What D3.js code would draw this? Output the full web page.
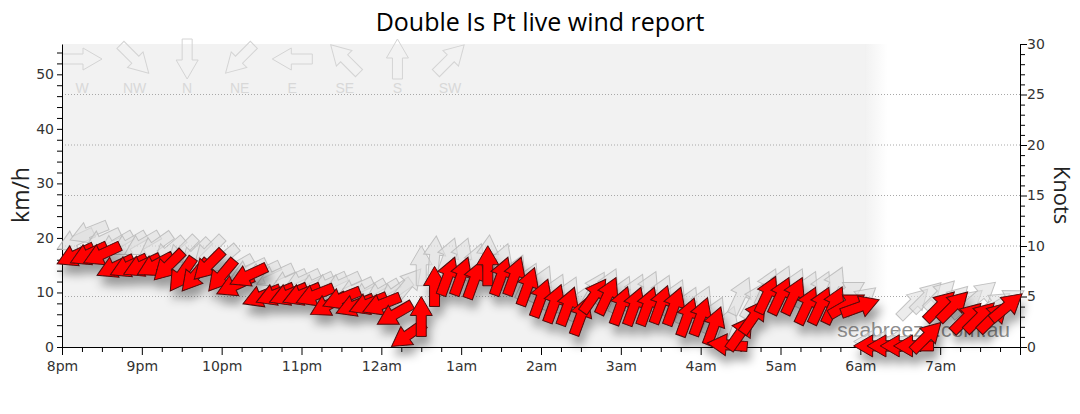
<!DOCTYPE html>
<html><head><meta charset="utf-8">
<script src="https://cdn.jsdelivr.net/npm/d3@7"></script>
<style>
html,body{margin:0;padding:0;background:#fff;}
svg{display:block;}
</style></head>
<body>
<svg id="chart" width="1080" height="414"></svg>
<script>
// ---------------- data ----------------
const title = "Double Is Pt live wind report";
const times = ["20:10","20:20","20:30","20:40","20:50","21:00","21:10","21:20","21:30","21:40","21:50","22:00","22:10","22:20","22:30","22:40","22:50","23:00","23:10","23:20","23:30","23:40","23:50","00:00","00:10","00:20","00:30","00:40","00:50","01:00","01:10","01:20","01:30","01:40","01:50","02:00","02:10","02:20","02:30","02:40","02:50","03:00","03:10","03:20","03:30","03:40","03:50","04:00","04:10","04:20","04:30","04:40","04:50","05:00","05:10","05:20","05:30","05:40","05:50","06:00","06:10","06:20","06:30","06:40","06:50","07:00","07:10","07:20","07:30","07:40","07:50"];
// average wind (km/h) and direction it blows FROM (degrees)
const windKmh = [16.8,17.0,17.0,14.7,14.8,14.9,15.0,14.9,13.3,13.1,
                 15.0,13.1,11.3,13.1,9.3,9.6,9.6,9.6,9.5,7.7,
                 8.9,7.6,7.9,7.8,6.0,2.2,5.6,11.1,13.0,13.0,
                 12.4,14.9,13.0,13.0,11.1,9.0,8.0,7.5,5.7,9.4,
                 9.4,7.6,7.5,7.5,7.8,7.5,5.5,5.6,3.9,0.4,
                 2.6,5.6,9.6,9.4,9.4,7.6,7.6,7.7,7.7,7.4,
                 0.2,0.2,0.2,0.2,1.9,7.5,7.5,5.4,5.5,5.5,7.4];
const windFrom = [65,65,65,65,65,65,62,45,35,40,
                  45,40,65,65,68,68,68,68,68,62,
                  68,68,68,68,60,55,180,180,200,200,
                  200,180,200,200,200,200,200,200,200,215,
                  205,200,200,200,200,200,200,200,200,95,
                  215,215,205,205,205,205,205,205,240,250,
                  90,90,90,90,225,225,225,225,225,225,230];
// gusts (km/h) and direction FROM (degrees)
const gustKmh = [19.5,21.0,19.5,18.8,18.8,18.8,18.5,17.5,17.5,17.0,
                 17.5,16.0,14.5,14.0,13.5,13.0,12.0,12.0,11.5,11.5,
                 11.5,10.5,10.0,10.0,10.0,11.5,14.9,16.7,16.5,16.5,
                 15.5,16.9,15.5,13.5,12.0,11.5,10.0,9.5,8.0,10.5,
                 11.0,9.6,10.0,10.5,9.8,9.0,7.6,7.8,5.8,4.0,
                 9.4,8.5,11.0,11.5,11.0,10.5,10.5,11.3,10.0,8.5,
                 1.0,1.0,1.0,8.0,9.2,9.5,8.5,8.0,9.5,7.7,8.5];
const gustFrom = [65,68,65,60,60,60,55,50,45,45,
                  45,50,60,65,65,65,65,65,65,65,
                  65,65,60,60,55,220,180,185,200,200,
                  200,185,200,205,205,205,205,205,205,210,
                  205,205,205,205,205,205,205,205,205,200,
                  205,210,205,205,205,205,205,205,240,230,
                  90,90,90,225,225,225,225,230,230,235,240];
const hourLabels = ["8pm","9pm","10pm","11pm","12am","1am","2am","3am","4am","5am","6am","7am"];
const compassNames = ["W","NW","N","NE","E","SE","S","SW"];
const compassFrom = [270,315,0,45,90,135,180,225];
const kmhTicks = [0,10,20,30,40,50];
const knotTicks = [0,5,10,15,20,25,30];
const nightEnd = "06:10";
const watermark = "seabreeze.com.au";

// ---------------- layout ----------------
const X0 = 62, X1 = 1020, YT = 44, YB = 347;
const KMH_PER_KNOT = 1.852;

const parseT = s => { const [h, m] = s.split(":").map(Number); return new Date(2000, 0, h < 12 ? 2 : 1, h, m); };
const tStart = parseT("20:00"), tEnd = parseT("08:00");

const x = d3.scaleTime().domain([tStart, tEnd]).range([X0, X1]);
const y = d3.scaleLinear().domain([0, 30 * KMH_PER_KNOT]).range([YB, YT]);
const yKn = d3.scaleLinear().domain([0, 30]).range([YB, YT]);

const svg = d3.select("#chart");
const defs = svg.append("defs");

// night shading gradient
const xNight = x(parseT(nightEnd));
const grad = defs.append("linearGradient").attr("id", "nightFade")
  .attr("gradientUnits", "userSpaceOnUse")
  .attr("x1", xNight - 8).attr("x2", xNight + 14).attr("y1", 0).attr("y2", 0);
grad.append("stop").attr("offset", 0).attr("stop-color", "#f2f2f2");
grad.append("stop").attr("offset", 1).attr("stop-color", "#ffffff");

const shadow = defs.append("filter").attr("id", "shadow")
  .attr("x", "-10%").attr("y", "-25%").attr("width", "120%").attr("height", "170%");
shadow.append("feDropShadow").attr("dx", 3).attr("dy", 9).attr("stdDeviation", 5)
  .attr("flood-color", "#000").attr("flood-opacity", 0.36);

svg.append("rect").attr("x", X0).attr("y", YT).attr("width", xNight + 14 - X0).attr("height", YB - YT)
  .attr("fill", "url(#nightFade)");
svg.append("rect").attr("x", X0).attr("y", YT).attr("width", xNight - 8 - X0).attr("height", YB - YT)
  .attr("fill", "#f2f2f2");

// grid lines (knots)
svg.append("g").selectAll("line").data(knotTicks.filter(k => k > 0 && k < 30)).join("line")
  .attr("x1", X0).attr("x2", X1).attr("y1", d => yKn(d)).attr("y2", d => yKn(d))
  .attr("stroke", "#a8a8a8").attr("stroke-width", 1).attr("stroke-dasharray", "1,2");

// arrow shape: pointing up, origin at mid-length
const arrowPath = "M0,-20L11,-1L5,-1L5,20L-5,20L-5,-1L-11,-1Z";

// compass legend
const legX = d3.scalePoint().domain(compassNames).range([82, 450]);
const leg = svg.append("g");
leg.selectAll("path").data(compassNames).join("path")
  .attr("d", arrowPath)
  .attr("transform", (d, i) => `translate(${legX(d)},59) rotate(${compassFrom[i] + 180})`)
  .attr("fill", "none").attr("stroke", "#d4d4d4").attr("stroke-width", 1);
leg.selectAll("text").data(compassNames).join("text")
  .attr("x", d => legX(d)).attr("y", 92.5).attr("text-anchor", "middle")
  .attr("font-family", "Liberation Sans, Arial, sans-serif").attr("font-size", 14)
  .attr("fill", "#d8d8d8").text(d => d);

// axes
const tickFont = "DejaVu Sans, sans-serif";
const gL = svg.append("g").attr("transform", `translate(${X0},0)`)
  .call(d3.axisLeft(y).tickValues(d3.range(0, 55, 2)).tickSize(5).tickSizeOuter(0).tickPadding(3)
    .tickFormat(d => kmhTicks.includes(d) ? d : ""));
const gR = svg.append("g").attr("transform", `translate(${X1},0)`)
  .call(d3.axisRight(yKn).tickValues(d3.range(0, 31, 1)).tickSize(5).tickSizeOuter(0).tickPadding(2)
    .tickFormat(d => knotTicks.includes(d) ? d : ""));
gR.selectAll(".tick").filter(d => knotTicks.includes(d)).select("line").attr("x2", 7);

const qTicks = d3.timeMinute.every(15).range(tStart, new Date(+tEnd + 1));
const gB = svg.append("g").attr("transform", `translate(0,${YB})`)
  .call(d3.axisBottom(x).tickValues(qTicks).tickSize(5).tickSizeOuter(0).tickPadding(9)
    .tickFormat(d => {
      const h = Math.round((d - tStart) / 3600000);
      return (d.getMinutes() === 0 && h < hourLabels.length) ? hourLabels[h] : "";
    }));
gB.selectAll(".tick").filter(d => d.getMinutes() === 0).select("line").attr("y2", 8);

[gL, gR, gB].forEach(g => {
  g.selectAll("text").attr("font-family", tickFont).attr("font-size", 14).attr("fill", "#333");
  g.selectAll("line,path").attr("stroke", "#000");
});

// title and axis titles
svg.append("text").attr("x", 540).attr("y", 31).attr("text-anchor", "middle")
  .attr("font-family", "Open Sans, sans-serif").attr("font-size", 25).attr("fill", "#000").text(title);
svg.append("text").attr("transform", "translate(29,195) rotate(-90)").attr("text-anchor", "middle")
  .attr("font-family", "Open Sans, sans-serif").attr("font-size", 23).attr("fill", "#222").text("km/h");
svg.append("text").attr("transform", "translate(1054,195) rotate(90)").attr("text-anchor", "middle")
  .attr("font-family", "Open Sans, sans-serif").attr("font-size", 22).attr("fill", "#222").text("Knots");

// watermark
svg.append("text").attr("x", 1010).attr("y", 337).attr("text-anchor", "end")
  .attr("font-family", "Liberation Sans, Arial, sans-serif").attr("font-size", 21)
  .attr("fill", "#808080").attr("fill-opacity", 0.9).text(watermark);

// data points
const pts = times.map((t, i) => ({ t: parseT(t), w: windKmh[i], wd: windFrom[i], g: gustKmh[i], gd: gustFrom[i] }));

svg.append("g").attr("class", "gusts").selectAll("path").data(pts).join("path")
  .attr("d", arrowPath)
  .attr("transform", d => `translate(${x(d.t)},${y(d.g)}) rotate(${d.gd + 180})`)
  .attr("fill", "#e0e0e0").attr("fill-opacity", 0.6)
  .attr("stroke", "#b8b8b8").attr("stroke-opacity", 0.85).attr("stroke-width", 1);

svg.append("g").attr("class", "wind").attr("filter", "url(#shadow)")
  .selectAll("path").data(pts).join("path")
  .attr("d", arrowPath)
  .attr("transform", d => `translate(${x(d.t)},${y(d.w)}) rotate(${d.wd + 180})`)
  .attr("fill", "#ff0000").attr("stroke", "#4a0a0a").attr("stroke-width", 1)
  .attr("stroke-linejoin", "miter");
</script>
</body></html>
